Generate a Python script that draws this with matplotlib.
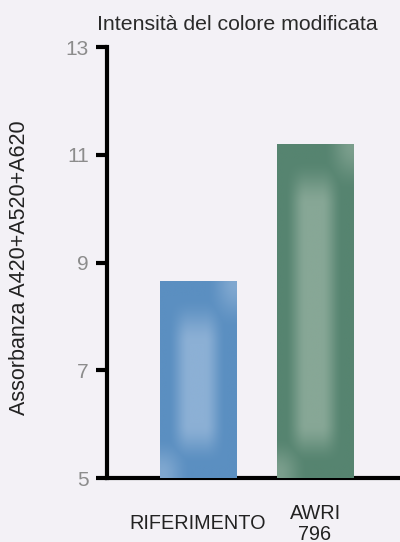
import numpy as np
import matplotlib.pyplot as plt
from matplotlib.colors import to_rgb

# data
labels = ['RIFERIMENTO', 'AWRI\n796']
values = [8.65, 11.2]
dark_cols = ['#5b8fc1', '#568470']
light_cols = ['#8cb0d5', '#87a796']
yticks = [5, 7, 9, 11, 13]

bg = '#f3f1f6'
plt.rcParams['font.family'] = ['Liberation Sans', 'DejaVu Sans']

fig = plt.figure(figsize=(4, 5.42), dpi=100, facecolor=bg)
ax = fig.add_axes([0.2675, 0.118, 0.7325, 0.7952])
ax.set_facecolor(bg)

x = np.arange(len(values))
w = 0.65
bars = ax.bar(x, values, width=w, color=dark_cols, zorder=2)


def smooth(a, lo, hi):
    t = np.clip((a - lo) / (hi - lo), 0, 1)
    return t * t * (3 - 2 * t)


# soft bevel shading inside each bar
for b, dc, lc in zip(bars, dark_cols, light_cols):
    x0 = b.get_x()
    y0, y1 = 5, b.get_height()
    u = np.linspace(0, 1, 120)
    yy = np.linspace(y0, y1, 400)
    U, Y = np.meshgrid(u, yy)
    band = smooth(U, 0.1, 0.38) * (1 - smooth(U, 0.58, 0.86))
    vert = smooth(Y, y0 + 0.25, y0 + 1.0) * (1 - smooth(Y, y1 - 1.15, y1 - 0.3))
    t = band * vert
    tr = smooth(U, 0.6, 0.98) * smooth(Y, y1 - 0.9, y1 - 0.05) * 0.75
    bl = (1 - smooth(U, 0.02, 0.4)) * (1 - smooth(Y, y0 + 0.1, y0 + 0.75)) * 0.75
    t = np.maximum(t, np.maximum(tr, bl))
    c0 = np.array(to_rgb(dc))
    c1 = np.array(to_rgb(lc))
    img = c0 + t[..., None] * (c1 - c0)
    im = ax.imshow(img, extent=[x0, x0 + w, y0, y1], origin='lower',
                   aspect='auto', interpolation='bilinear', zorder=3)
    im.set_clip_path(b)

ax.set_xlim(-0.778, 1.726)
ax.set_ylim(5, 13)
ax.set_yticks(yticks)
ax.set_yticklabels([str(v) for v in yticks], color='#8c8c8c', fontsize=15)
ax.set_xticks(x)
ax.set_xticklabels(labels, fontsize=14.3, color='#222222', linespacing=1.1)
for lab in ax.get_xticklabels():
    lab.set_verticalalignment('center')
ax.tick_params(axis='x', length=0, pad=33)
ax.tick_params(axis='y', length=8, width=3, pad=5)

for s in ['top', 'right']:
    ax.spines[s].set_visible(False)
ax.spines['left'].set_linewidth(3)
ax.spines['bottom'].set_linewidth(3)

fig.text(0.05, 0.507, 'Assorbanza A420+A520+A620', rotation=90, ha='center',
         va='center', fontsize=15.5, color='#222222')
fig.text(0.5925, 0.9555, 'Intensità del colore modificata', ha='center', va='center',
         fontsize=15.3, color='#2a2a2a')

fig.savefig('out.png', dpi=100, facecolor=bg)
